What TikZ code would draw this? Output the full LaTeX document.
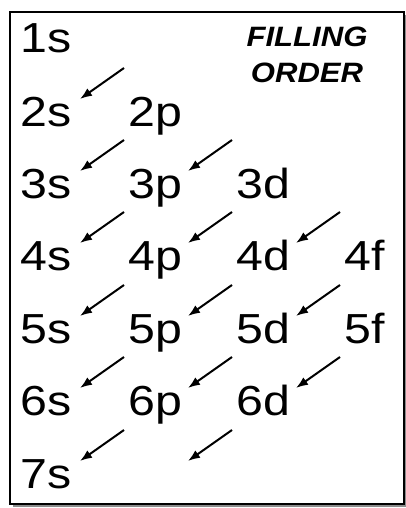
\documentclass[tikz,border=0pt]{standalone}
\usepackage{fontspec}
\setmainfont{Liberation Sans}
\newfontfamily\orbfont[FakeStretch=1.15]{Liberation Sans}
\newfontfamily\headfont[FakeStretch=1.11]{Liberation Sans}
\usetikzlibrary{arrows.meta,calc}
\definecolor{shadowgray}{HTML}{8C8C8C}
\tikzset{
  orbital/.style={
    anchor=base west,
    inner sep=0pt,
    font=\orbfont\fontsize{42}{42}\selectfont
  },
  heading/.style={
    anchor=north,
    align=center,
    inner sep=0pt,
    font=\headfont\fontsize{28}{36}\selectfont\bfseries\itshape
  },
  fillarrow/.style={-{Latex[length=12pt,width=9pt]},line width=2pt,draw=black}
}

\begin{document}
\begin{tikzpicture}[x=1pt,y=-1pt]
\useasboundingbox (0,0) rectangle (406,508);
\fill[shadowgray] (13,15) rectangle (407,507);
\draw[line width=1.5pt,fill=white] (10,12) rectangle (404,504);
\node[heading] (title) at (307,27) {FILLING\\ORDER};
% s column
\node[orbital] (s1) at (20,53) {1s};
\node[orbital] (s2) at (20,126) {2s};
\node[orbital] (s3) at (20,198) {3s};
\node[orbital] (s4) at (20,270) {4s};
\node[orbital] (s5) at (20,343) {5s};
\node[orbital] (s6) at (20,415) {6s};
\node[orbital] (s7) at (20,488) {7s};
% p column
\node[orbital] (p2) at (128,126) {2p};
\node[orbital] (p3) at (128,198) {3p};
\node[orbital] (p4) at (128,270) {4p};
\node[orbital] (p5) at (128,343) {5p};
\node[orbital] (p6) at (128,415) {6p};
\coordinate (p7) at (128,488);
% d and f columns
\node[orbital] (d3) at (236,198) {3d};
\node[orbital] (d4) at (236,270) {4d};
\node[orbital] (d5) at (236,343) {5d};
\node[orbital] (d6) at (236,415) {6d};
\node[orbital] (f4) at (344,270) {4f};
\node[orbital] (f5) at (344,343) {5f};
\foreach \t in {s2,s3,p3,s4,p4,d4,s5,p5,d5,s6,p6,d6,s7}
  \draw[fillarrow] ($(\t.base west)+(104,-58)$) -- ($(\t.base west)+(60,-27)$);
\draw[fillarrow] ($(p7)+(104,-58)$) -- ($(p7)+(60,-27)$);
\end{tikzpicture}
\end{document}
